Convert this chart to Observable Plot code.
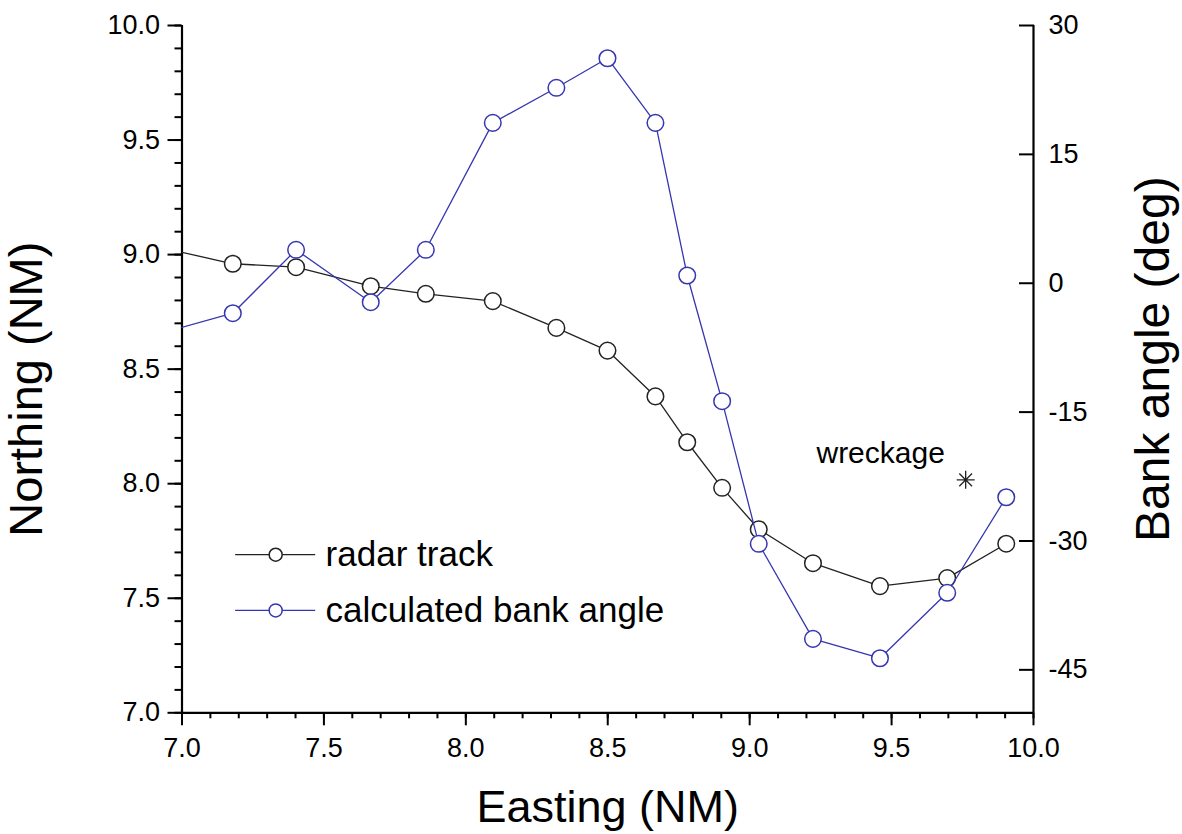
<!DOCTYPE html>
<html>
<head>
<meta charset="utf-8">
<script src="https://cdn.jsdelivr.net/npm/d3@7"></script>
<script src="https://cdn.jsdelivr.net/npm/@observablehq/plot@0.6"></script>
<style>
  html, body { margin: 0; padding: 0; background: #fff; }
</style>
</head>
<body>
<div id="chart"></div>
<script>
// ---- data ----
// first point lies just left of the visible range (line enters from the left edge)
const easting  = [6.95, 7.179, 7.402, 7.665, 7.859, 8.095, 8.319, 8.499, 8.668, 8.780, 8.903, 9.032, 9.223, 9.459, 9.696, 9.904];
const northing = [9.024, 8.960, 8.945, 8.862, 8.829, 8.797, 8.680, 8.581, 8.381, 8.181, 7.982, 7.801, 7.653, 7.553, 7.588, 7.738];
const bankAngle = [-5.6, -3.49, 3.89, -2.21, 3.89, 18.67, 22.75, 26.19, 18.67, 0.90, -13.73, -30.33, -41.39, -43.65, -36.03, -24.91];

const xTicks = [7.0, 7.5, 8.0, 8.5, 9.0, 9.5, 10.0];
const yTicks = [7.0, 7.5, 8.0, 8.5, 9.0, 9.5, 10.0];
const rightTicks = [-45, -30, -15, 0, 15, 30];
const xMinor = d3.range(70, 101).map(d => d / 10);
const yMinor = d3.range(70, 101).map(d => d / 10);

const wreckX = [9.761];
const wreckY = [8.017];
const wreckLabel = ["wreckage"];

const legendLabels = ["radar track", "calculated bank angle"];
const legendColors = ["#222222", "#3636b0"];
const legendY = [7.690, 7.447];
const legendX = { start: 7.189, circle: 7.330, end: 7.471, text: 7.506 };

// ---- dual-axis mapping ----
const N0 = 7, N1 = 10, B0 = -50, B1 = 30;
const toN = b => N0 + (b - B0) * (N1 - N0) / (B1 - B0);
const toB = n => B0 + (n - N0) * (B1 - B0) / (N1 - N0);

const radar = easting.map((x, i) => ({x, y: northing[i]}));
const bank = easting.map((x, i) => ({x, y: toN(bankAngle[i])}));
const wreck = wreckX.map((x, i) => ({x, y: wreckY[i], label: wreckLabel[i]}));
const legend = legendLabels.map((label, i) => ({label, color: legendColors[i], y: legendY[i]}));

const asterisk = {
  draw(context) {
    const r = 9, d = r * Math.SQRT1_2;
    context.moveTo(-r, 0); context.lineTo(r, 0);
    context.moveTo(0, -r); context.lineTo(0, r);
    context.moveTo(-d, -d); context.lineTo(d, d);
    context.moveTo(-d, d); context.lineTo(d, -d);
  }
};

const blue = legendColors[1];
const black = legendColors[0];

const chart = Plot.plot({
  width: 1182,
  height: 834,
  marginLeft: 181.5,
  marginRight: 149,
  marginTop: 25,
  marginBottom: 121.7,
  style: {fontFamily: "'Liberation Sans', Arial, sans-serif", fontSize: "27px", background: "white", color: "black"},
  x: {domain: [7, 10]},
  y: {domain: [7, 10]},
  marks: [
    // axes
    Plot.axisX({ticks: xMinor, tickSize: 6, text: null, strokeWidth: 2, label: null}),
    Plot.axisX({ticks: xTicks, tickSize: 13, tickPadding: 12, tickFormat: d3.format(".1f"), fontSize: 27, strokeWidth: 2, label: null}),
    Plot.axisY({ticks: yMinor, tickSize: 7, text: null, strokeWidth: 2, label: null}),
    Plot.axisY({ticks: yTicks, tickSize: 14, tickPadding: 8, tickFormat: d3.format(".1f"), fontSize: 27, strokeWidth: 2, label: null}),
    Plot.axisY({anchor: "right", ticks: rightTicks.map(toN), tickSize: -15, text: null, strokeWidth: 2, label: null}),
    Plot.axisY({anchor: "right", ticks: rightTicks.map(toN), tickSize: 0, tickPadding: 15, tickFormat: d => String(Math.round(toB(d))), fontSize: 27, label: null}),
    Plot.ruleX([7, 10], {strokeWidth: 2.2}),
    Plot.ruleY([7], {strokeWidth: 2.2}),
    // axis titles
    Plot.text(["Northing (NM)"], {frameAnchor: "left", text: d => d, rotate: -90, fontSize: 47, dx: -155, dy: 20, textAnchor: "middle", lineAnchor: "middle"}),
    Plot.text(["Bank angle (deg)"], {frameAnchor: "right", text: d => d, rotate: -90, fontSize: 48, dx: 120, dy: -10, textAnchor: "middle", lineAnchor: "middle"}),
    Plot.text(["Easting (NM)"], {frameAnchor: "bottom", text: d => d, fontSize: 45, dy: 95, textAnchor: "middle", lineAnchor: "middle"}),
    // radar track
    Plot.line(radar, {x: "x", y: "y", stroke: black, strokeWidth: 1.3, clip: true}),
    Plot.dot(radar, {x: "x", y: "y", r: 8.3, fill: "white", stroke: black, strokeWidth: 1.5, clip: true}),
    // bank angle
    Plot.line(bank, {x: "x", y: "y", stroke: blue, strokeWidth: 1.3, clip: true}),
    Plot.dot(bank, {x: "x", y: "y", r: 8.3, fill: "white", stroke: blue, strokeWidth: 1.5, clip: true}),
    // wreckage
    Plot.dot(wreck, {x: "x", y: "y", symbol: asterisk, stroke: "#222", strokeWidth: 1.3}),
    Plot.text(wreck, {x: "x", y: "y", text: "label", fontSize: 30, dx: -85, dy: -26, textAnchor: "middle", lineAnchor: "middle", fill: "black"}),
    // legend
    Plot.ruleY(legend, {y: "y", x1: legendX.start, x2: legendX.end, stroke: "color", strokeWidth: 1.3}),
    Plot.dot(legend, {x: legendX.circle, y: "y", r: 6.5, fill: "white", stroke: "color", strokeWidth: 1.5}),
    Plot.text(legend, {x: legendX.text, y: "y", text: "label", fontSize: 35, textAnchor: "start", lineAnchor: "middle", fill: "black"})
  ]
});

document.getElementById("chart").appendChild(chart);
</script>
</body>
</html>
